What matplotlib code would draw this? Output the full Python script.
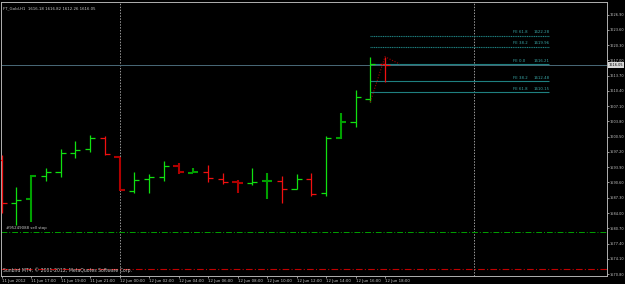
import numpy as np
import matplotlib
matplotlib.use("Agg")
import matplotlib.pyplot as plt
import matplotlib.transforms as mtransforms

# FT_Gold H1, 11 Jun 2012 15:00 .. 12 Jun 18:00 (23:00 bar missing)
opens  = [1595.46, 1586.16, 1587.03, 1592.00, 1592.87, 1596.98, 1597.84, 1600.22, 1596.11,
          1588.76, 1591.35, 1591.79, 1594.17, 1592.65, 1592.87, 1591.35, 1590.70, 1590.49,
          1590.92, 1590.92, 1589.19, 1591.35, 1588.33, 1600.22, 1603.69, 1608.66, 1616.18]
highs  = [1596.55, 1589.62, 1592.22, 1593.73, 1597.84, 1599.58, 1600.87, 1600.66, 1596.11,
          1592.87, 1592.44, 1595.25, 1594.82, 1593.73, 1594.38, 1592.65, 1591.14, 1593.73,
          1592.65, 1592.00, 1592.44, 1592.65, 1600.66, 1605.63, 1610.61, 1617.70, 1617.82]
lows   = [1584.00, 1581.40, 1582.05, 1590.92, 1591.79, 1595.90, 1597.20, 1596.55, 1588.76,
          1588.33, 1588.33, 1590.92, 1592.44, 1592.65, 1590.70, 1590.27, 1588.33, 1590.06,
          1587.03, 1586.16, 1589.19, 1587.68, 1587.68, 1600.01, 1602.60, 1608.01, 1612.26]
closes = [1586.16, 1586.81, 1592.00, 1592.87, 1596.98, 1597.63, 1600.22, 1596.76, 1588.97,
          1591.14, 1591.79, 1594.17, 1592.87, 1592.87, 1591.57, 1590.70, 1590.49, 1590.70,
          1590.92, 1589.19, 1591.35, 1588.11, 1600.22, 1603.69, 1609.09, 1616.30, 1616.05]

x_labels = ["11 Jun 2012", "11 Jun 17:00", "11 Jun 19:00", "11 Jun 21:00", "12 Jun 00:00",
            "12 Jun 02:00", "12 Jun 04:00", "12 Jun 06:00", "12 Jun 08:00", "12 Jun 10:00",
            "12 Jun 12:00", "12 Jun 14:00", "12 Jun 16:00", "12 Jun 18:00"]
x_label_bars = [0, 2, 4, 6, 8, 10, 12, 14, 16, 18, 20, 22, 24, 26]

y_ticks = [1570.80, 1574.10, 1577.40, 1580.70, 1584.00, 1587.30, 1590.60, 1593.90, 1597.20,
           1600.50, 1603.80, 1607.10, 1610.40, 1613.70, 1617.00, 1620.30, 1623.60, 1626.90]

fe_names  = ["FE 61.8", "FE 38.2", "FE 0.0", "FE 38.2", "FE 61.8"]
fe_prices = [1622.28, 1619.96, 1616.21, 1612.48, 1610.15]
fe_dotted = [True, True, False, False, False]
fe_start, fe_end = 25, 37.15

fe_anchor_x = [25, 26, 27]
fe_anchor_y = [1608.01, 1617.82, 1616.21]

separators = [8, 32]
bid = 1616.05
sell_stop = 1579.89
stop_level = 1571.88
order_label = "#95249088 sell stop"
title = "FT_Gold,H1  1616.18 1616.82 1612.26 1616.05"

heavy = [2, 8, 12, 13, 16, 18, 23]

UP, DOWN = "#10e010", "#f01010"
UP_D, DOWN_D = "#00a000", "#b00000"
FG = "#c8c8c8"
FS = 2.8

fig = plt.figure(figsize=(6.25, 2.84), dpi=100, facecolor="black")
ax = fig.add_axes([1 / 625, 8 / 284, 606 / 625, 274 / 284], facecolor="black")

ax.set_xlim(-0.034, 41.05)
ax.set_ylim(1570.37, 1629.65)

# OHLC bars
w = 0.34
for i, (o, h, l, c) in enumerate(zip(opens, highs, lows, closes)):
    up = c >= o
    if i in heavy:
        col, lw = (UP_D if up else DOWN_D), 1.5
    else:
        col, lw = (UP if up else DOWN), 0.9
    ax.vlines(i, l, h, color=col, lw=lw, zorder=3)
    ax.hlines(o, i - w, i, color=col, lw=lw, zorder=3)
    ax.hlines(c, i, i + w, color=col, lw=lw, zorder=3)

# period separators
for s in separators:
    ax.axvline(s, color="#9a9a9a", lw=0.7, ls=(0, (1.5, 1.5)), zorder=1)

# bid line
ax.axhline(bid, color="#4a6a78", lw=0.7, zorder=2)

# pending order and stop
ax.axhline(sell_stop, color="#00a000", lw=0.7, ls=(0, (6, 2, 1, 2)), zorder=2)
ax.axhline(stop_level, color="#c00000", lw=0.8, ls=(0, (6, 2, 1, 2)), zorder=2)
ax.text(0.3, sell_stop + 0.35, order_label, color=FG, fontsize=FS, va="bottom", ha="left")

# fibo expansion
for name, p, dot in zip(fe_names, fe_prices, fe_dotted):
    ax.hlines(p, fe_start, fe_end, color="#1f8080", lw=0.8,
              linestyles=(0, (1, 0.6)) if dot else "solid", zorder=2)
    ax.text(34.7, p + 0.35, name, color="#3aa6a6", fontsize=FS, va="bottom", ha="left")
    ax.text(fe_end, p + 0.35, "%.2f" % p, color="#3aa6a6", fontsize=FS, va="bottom", ha="right")
ax.plot(fe_anchor_x, fe_anchor_y, color="#a00000", lw=0.8, ls=(0, (1, 1.5)), zorder=4)

# axes styling
for sp in ax.spines.values():
    sp.set_color("#b0b0b0")
    sp.set_linewidth(0.7)

ax.yaxis.tick_right()
ax.set_yticks(y_ticks)
ax.set_yticklabels(["%.2f" % v for v in y_ticks])
ax.set_xticks(x_label_bars)
ax.set_xticklabels(x_labels, ha="left")
ax.tick_params(axis="both", colors="#b0b0b0", labelcolor=FG, labelsize=FS,
               length=1.5, width=0.6, pad=1)
ax.tick_params(axis="y", labelsize=2.55, length=1.2, pad=0.6)

# price box on the axis
trans = mtransforms.blended_transform_factory(ax.transAxes, ax.transData)
ax.text(1.003, bid, "%.2f" % bid, transform=trans, fontsize=2.55, color="black",
        va="center", ha="left", zorder=10, clip_on=False,
        bbox=dict(boxstyle="square,pad=0.25", fc="#d8d8d8", ec="none"))

ax.text(0.004, 0.985, title, transform=ax.transAxes, color=FG, fontsize=FS,
        va="top", ha="left")
ax.text(0.004, 0.012, "Sunbird MT4, \u00a9 2001-2012, MetaQuotes Software Corp.",
        transform=ax.transAxes, color=FG, fontsize=3.3, va="bottom", ha="left")

fig.savefig("out.png", dpi=100, facecolor="black")
